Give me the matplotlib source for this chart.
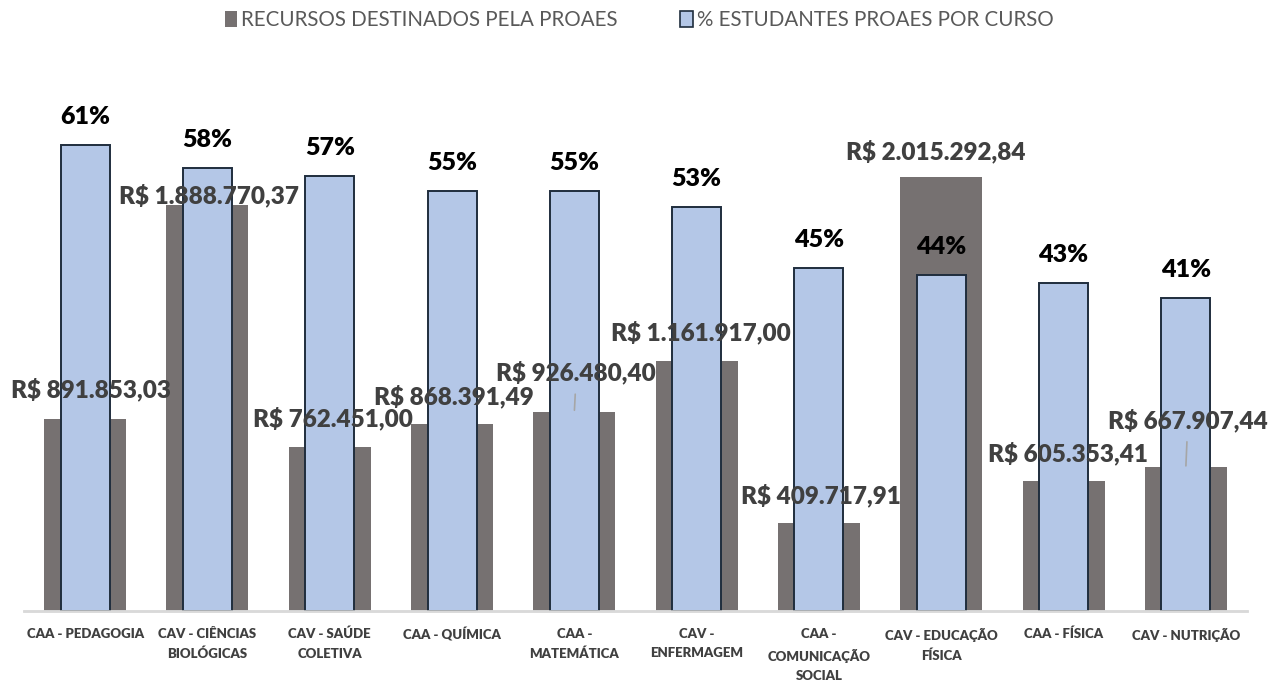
import numpy as np
import matplotlib.pyplot as plt
from matplotlib.patches import Patch

cursos = ["CAA - PEDAGOGIA", "CAV - CIÊNCIAS\nBIOLÓGICAS", "CAV - SAÚDE\nCOLETIVA",
          "CAA - QUÍMICA", "CAA -\nMATEMÁTICA", "CAV -\nENFERMAGEM",
          "CAA -\nCOMUNICAÇÃO\nSOCIAL", "CAV - EDUCAÇÃO\nFÍSICA", "CAA - FÍSICA",
          "CAV - NUTRIÇÃO"]
recursos = [891853.03, 1888770.37, 762451.00, 868391.49, 926480.40,
            1161917.00, 409717.91, 2015292.84, 605353.41, 667907.44]
estudantes = [0.61, 0.58, 0.57, 0.55, 0.55, 0.53, 0.45, 0.44, 0.43, 0.41]

# label offsets (pixels) as placed by hand in the original
off_x = [6, 2, 3, 2, 2, 4, 2, -6, 4, 2]
off_y = [30, 9, 28, 28, 39, 28, 27, 26, 27, 47]
leader = [False, False, False, False, True, False, False, False, False, True]

def brl(v):
    s = f"{v:,.2f}".replace(",", "X").replace(".", ",").replace("X", ".")
    return "R$ " + s

plt.rcParams['font.family'] = ['Lato', 'DejaVu Sans']

fig = plt.figure(figsize=(12.78, 6.82), dpi=100)
ax = fig.add_axes([24/1278, 1-611/682, 1223/1278, 538/682])
ax2 = ax.twinx()

x = np.arange(len(cursos))
ax.bar(x, recursos, width=0.67, color="#767171", zorder=2)
ax2.bar(x, estudantes, width=0.40, color="#b4c7e7", edgecolor="#1f2d3d", linewidth=1.4, zorder=2)

ax.set_ylim(0, 2500000)
ax2.set_ylim(0, 0.705)
ax.set_xlim(-0.5, len(cursos) - 0.5)

for a in (ax, ax2):
    a.set_yticks([])
    for s in ("top", "left", "right"):
        a.spines[s].set_visible(False)
    a.spines["bottom"].set_color("#d9d9d9")
    a.spines["bottom"].set_linewidth(1.8)

ax.set_xticks(x)
ax.set_xticklabels(cursos, fontsize=9.5, fontweight="heavy", color="#404040", linespacing=1.75)
ax.tick_params(axis="x", length=0, pad=12)

for i, p in enumerate(estudantes):
    ax2.annotate(f"{p:.0%}", (x[i], p), xytext=(0, 28), textcoords="offset pixels",
                 ha="center", va="center", fontsize=18, fontweight="heavy", color="black")

for i, v in enumerate(recursos):
    arrow = None
    if leader[i]:
        arrow = dict(arrowstyle="-", color="#a6a6a6", lw=1.2, shrinkA=5, shrinkB=1)
    ax2.annotate(brl(v), (x[i], v), xycoords=ax.transData,
                 xytext=(off_x[i], off_y[i]), textcoords="offset pixels",
                 ha="center", va="center", fontsize=17.5, fontweight="heavy", color="#404040",
                 arrowprops=arrow, zorder=5)

handles = [Patch(facecolor="#767171", edgecolor="none"),
           Patch(facecolor="#b4c7e7", edgecolor="#1f2d3d", linewidth=1.2)]
fig.legend(handles, ["RECURSOS DESTINADOS PELA PROAES", "% ESTUDANTES PROAES POR CURSO"],
           loc="upper center", bbox_to_anchor=(0.5, 1.012), ncol=2, frameon=False,
           fontsize=14.8, labelcolor="#595959", handlelength=0.6, handleheight=0.8,
           handletextpad=0.2, columnspacing=3.05)

fig.savefig("out.png", dpi=100)
